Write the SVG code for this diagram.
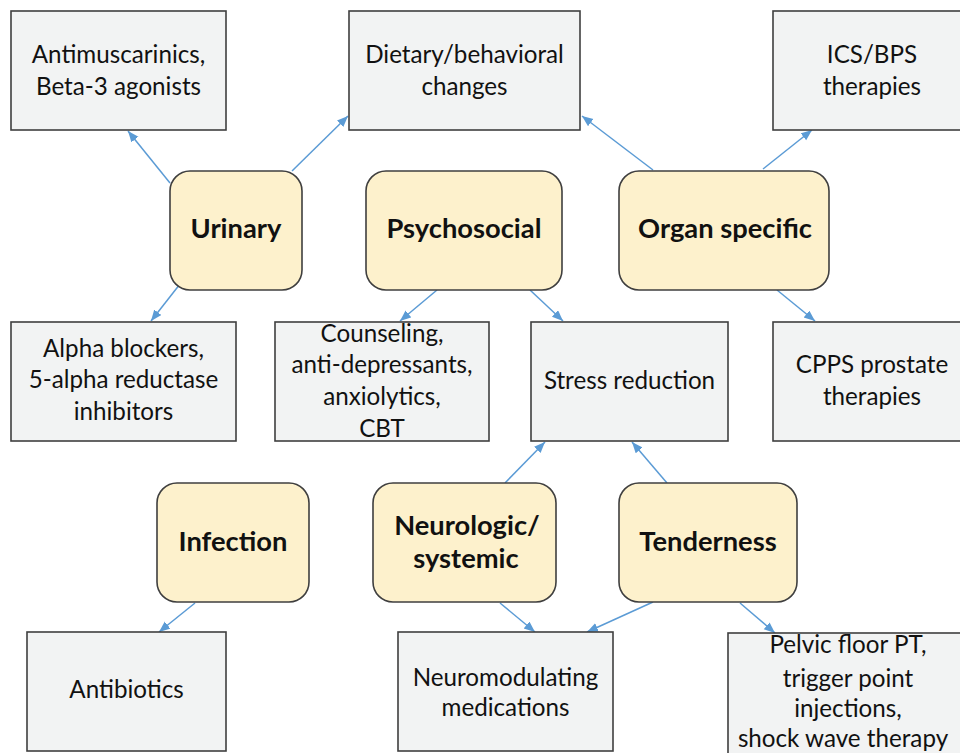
<svg xmlns="http://www.w3.org/2000/svg" width="960" height="753" viewBox="0 0 960 753">
<defs>
<style>
.box{fill:#f2f3f3;stroke:#3f3f3f;stroke-width:1.6}
.cat{fill:#fdf1cc;stroke:#3f3f3f;stroke-width:1.6}
.t{font-family:Lato,"Liberation Sans",sans-serif;font-size:24.2px;fill:#111;text-anchor:middle}
.b{font-family:Lato,"Liberation Sans",sans-serif;font-size:27.3px;font-weight:bold;fill:#111;text-anchor:middle}
.c{stroke:#5b9bd5;stroke-width:1.5;fill:none;marker-end:url(#ah)}
</style>
<marker id="ah" markerUnits="userSpaceOnUse" markerWidth="12" markerHeight="10" refX="11" refY="4.5" orient="auto">
<path d="M0,0 L11,4.5 L0,9 Z" fill="#5b9bd5"/>
</marker>
</defs>
<rect width="960" height="753" fill="#fff"/>

<g id="connectors">
<line class="c" x1="170" y1="183" x2="128" y2="131"/>
<line class="c" x1="292" y1="171" x2="348" y2="116"/>
<line class="c" x1="653" y1="170" x2="582" y2="116"/>
<line class="c" x1="763" y1="169" x2="812" y2="130"/>
<line class="c" x1="180" y1="284" x2="151" y2="321"/>
<line class="c" x1="437" y1="290" x2="400" y2="321"/>
<line class="c" x1="530" y1="290" x2="563" y2="321"/>
<line class="c" x1="777" y1="290" x2="815" y2="321"/>
<line class="c" x1="505" y1="483" x2="545" y2="442"/>
<line class="c" x1="667" y1="483" x2="632" y2="442"/>
<line class="c" x1="195" y1="603" x2="159" y2="632"/>
<line class="c" x1="500" y1="603" x2="535" y2="632"/>
<line class="c" x1="653" y1="602" x2="587" y2="632"/>
<line class="c" x1="740" y1="603" x2="775" y2="633"/>
</g>

<g id="antimuscarinics">
<rect class="box" x="11" y="11" width="215" height="119"/>
<text class="t" x="118.5" y="63">Antimuscarinics,</text>
<text class="t" x="118.5" y="95">Beta-3 agonists</text>
</g>
<g id="dietary">
<rect class="box" x="349" y="11" width="231" height="119"/>
<text class="t" x="464.5" y="63">Dietary/behavioral</text>
<text class="t" x="464.5" y="95">changes</text>
</g>
<g id="icsbps">
<rect class="box" x="773" y="11" width="195" height="119"/>
<text class="t" x="872" y="63">ICS/BPS</text>
<text class="t" x="872" y="95">therapies</text>
</g>

<g id="urinary">
<rect class="cat" x="170" y="171" width="132" height="119" rx="20"/>
<text class="b" x="236" y="238">Urinary</text>
</g>
<g id="psychosocial">
<rect class="cat" x="366" y="171" width="196" height="119" rx="20"/>
<text class="b" x="464" y="238">Psychosocial</text>
</g>
<g id="organ">
<rect class="cat" x="619" y="171" width="210" height="119" rx="20"/>
<text class="b" x="725" y="238">Organ specific</text>
</g>

<g id="alpha">
<rect class="box" x="11" y="322" width="225" height="119"/>
<text class="t" x="123.5" y="357">Alpha blockers,</text>
<text class="t" x="123.5" y="388">5-alpha reductase</text>
<text class="t" x="123.5" y="420">inhibitors</text>
</g>
<g id="counseling">
<rect class="box" x="275" y="322" width="214" height="119"/>
<text class="t" x="382" y="342">Counseling,</text>
<text class="t" x="382" y="373">anti-depressants,</text>
<text class="t" x="382" y="405">anxiolytics,</text>
<text class="t" x="382" y="437">CBT</text>
</g>
<g id="stress">
<rect class="box" x="531" y="322" width="197" height="119"/>
<text class="t" x="629.5" y="389">Stress reduction</text>
</g>
<g id="cpps">
<rect class="box" x="773" y="322" width="195" height="119"/>
<text class="t" x="872" y="373">CPPS prostate</text>
<text class="t" x="872" y="405">therapies</text>
</g>

<g id="infection">
<rect class="cat" x="157" y="483" width="152" height="119" rx="20"/>
<text class="b" x="233" y="551">Infection</text>
</g>
<g id="neurologic">
<rect class="cat" x="373" y="483" width="183" height="119" rx="20"/>
<text class="b" x="467" y="535">Neurologic/</text>
<text class="b" x="466" y="568">systemic</text>
</g>
<g id="tenderness">
<rect class="cat" x="619" y="483" width="178" height="119" rx="20"/>
<text class="b" x="708" y="551">Tenderness</text>
</g>

<g id="antibiotics">
<rect class="box" x="27" y="632" width="199" height="119"/>
<text class="t" x="126.5" y="698">Antibiotics</text>
</g>
<g id="neuromodulating">
<rect class="box" x="398" y="632" width="215" height="119"/>
<text class="t" x="505.5" y="686">Neuromodulating</text>
<text class="t" x="505.5" y="716">medications</text>
</g>
<g id="pelvic">
<rect class="box" x="728" y="633" width="240" height="130"/>
<text class="t" x="848" y="653">Pelvic floor PT,</text>
<text class="t" x="848" y="687">trigger point</text>
<text class="t" x="848" y="717">injections,</text>
<text class="t" x="843" y="747">shock wave therapy</text>
</g>
</svg>
